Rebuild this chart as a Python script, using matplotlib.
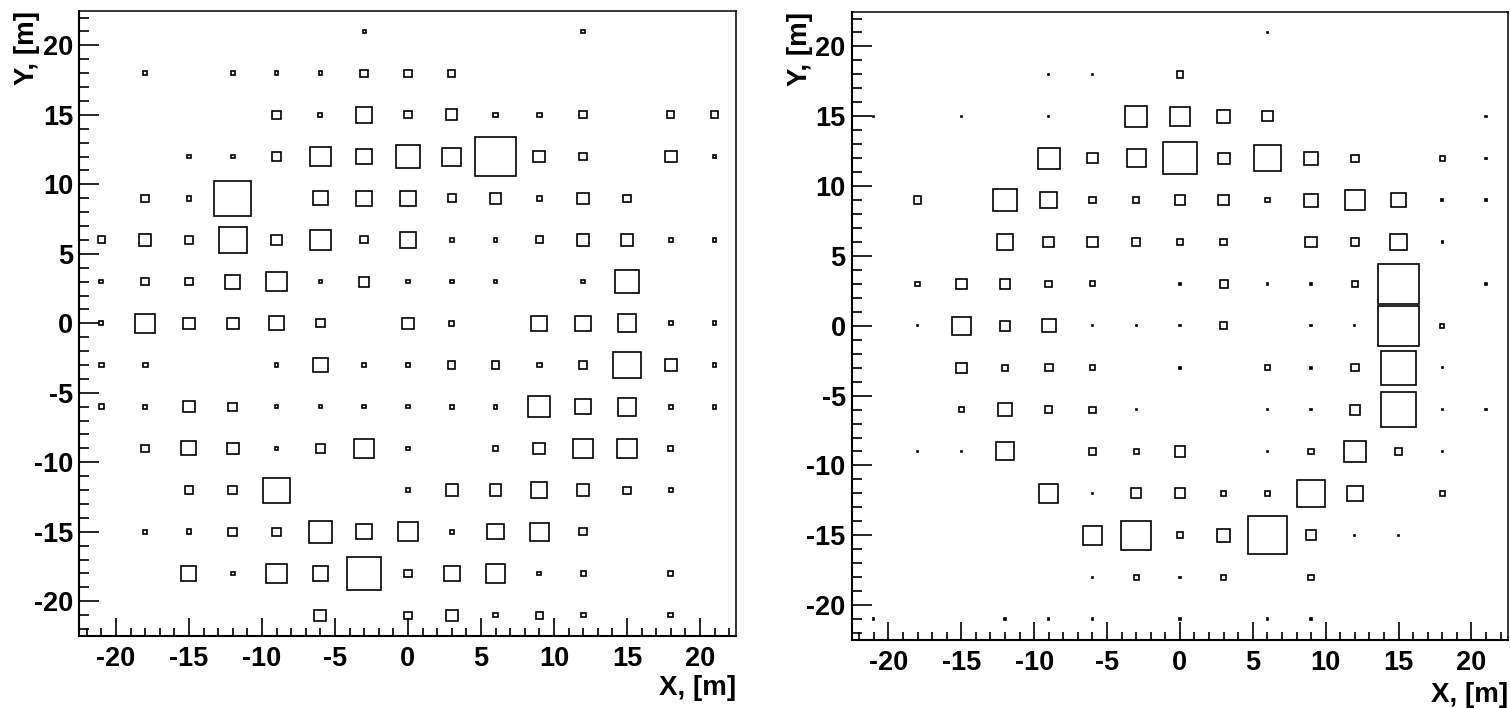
import numpy as np
import matplotlib
matplotlib.use("Agg")
import matplotlib.pyplot as plt
from matplotlib.patches import Rectangle
from matplotlib.ticker import MultipleLocator

plt.rcParams['font.family'] = ['Liberation Sans', 'DejaVu Sans']
plt.rcParams['font.weight'] = 'bold'
plt.rcParams['axes.unicode_minus'] = False

# detector grid: bin centres every 3 m
x_centres = [-21, -18, -15, -12, -9, -6, -3, 0, 3, 6, 9, 12, 15, 18, 21]
y_centres = [21, 18, 15, 12, 9, 6, 3, 0, -3, -6, -9, -12, -15, -18, -21]

# box side as a fraction of the bin width (rows follow y_centres)
box_left = [
    [0, 0, 0, 0, 0, 0, 0.07, 0, 0, 0, 0, 0.08, 0, 0, 0],
    [0, 0.10, 0, 0.10, 0.08, 0.08, 0.17, 0.17, 0.17, 0, 0, 0, 0, 0, 0],
    [0, 0, 0, 0, 0.20, 0.09, 0.37, 0.17, 0.26, 0.11, 0.11, 0.17, 0, 0.17, 0.17],
    [0, 0, 0.09, 0.09, 0.20, 0.47, 0.37, 0.53, 0.43, 0.95, 0.27, 0.18, 0, 0.28, 0.09],
    [0, 0.17, 0.11, 0.84, 0, 0.34, 0.37, 0.37, 0.18, 0.26, 0.11, 0.27, 0.17, 0, 0],
    [0.17, 0.27, 0.20, 0.63, 0.26, 0.47, 0.17, 0.37, 0.09, 0.09, 0.17, 0.27, 0.27, 0.09, 0.09],
    [0.09, 0.17, 0.18, 0.34, 0.46, 0.08, 0.24, 0.08, 0.09, 0.09, 0, 0.09, 0.56, 0, 0],
    [0.09, 0.46, 0.27, 0.27, 0.34, 0.20, 0, 0.27, 0.11, 0, 0.37, 0.37, 0.43, 0.09, 0.09],
    [0.11, 0.11, 0, 0, 0.08, 0.35, 0.08, 0.08, 0.17, 0.17, 0.11, 0.17, 0.63, 0.27, 0.09],
    [0.11, 0.09, 0.27, 0.20, 0.08, 0.08, 0.08, 0.08, 0.09, 0.09, 0.50, 0.37, 0.43, 0.09, 0.09],
    [0, 0.17, 0.34, 0.27, 0.08, 0.20, 0.46, 0.08, 0, 0.11, 0.27, 0.44, 0.44, 0.11, 0],
    [0, 0, 0.20, 0.20, 0.60, 0, 0, 0.08, 0.27, 0.27, 0.37, 0.27, 0.17, 0.09, 0],
    [0, 0.09, 0.11, 0.20, 0.20, 0.53, 0.37, 0.46, 0.09, 0.37, 0.43, 0.17, 0, 0, 0],
    [0, 0, 0.34, 0.09, 0.46, 0.34, 0.78, 0.17, 0.37, 0.44, 0.09, 0.11, 0, 0.11, 0],
    [0, 0, 0, 0, 0, 0.27, 0, 0.17, 0.27, 0.11, 0.17, 0.11, 0, 0.11, 0],
]

box_right = [
    [0, 0, 0, 0, 0, 0, 0, 0, 0, 0.03, 0, 0, 0, 0, 0],
    [0, 0, 0, 0, 0.03, 0.03, 0, 0.15, 0, 0, 0, 0, 0, 0, 0],
    [0.03, 0, 0.03, 0, 0.03, 0, 0.50, 0.44, 0.31, 0.24, 0, 0, 0, 0, 0.03],
    [0, 0, 0, 0, 0.50, 0.24, 0.44, 0.76, 0.27, 0.61, 0.31, 0.17, 0, 0.12, 0.03],
    [0, 0.18, 0, 0.53, 0.40, 0.15, 0.15, 0.24, 0.24, 0.10, 0.31, 0.46, 0.34, 0.05, 0.05],
    [0, 0, 0, 0.37, 0.24, 0.24, 0.18, 0.12, 0.15, 0, 0.26, 0.17, 0.40, 0.03, 0],
    [0, 0.10, 0.24, 0.24, 0.15, 0.12, 0, 0.03, 0.18, 0.03, 0.03, 0.15, 0.95, 0, 0.03],
    [0, 0.03, 0.43, 0.23, 0.31, 0.03, 0.03, 0.03, 0.17, 0, 0.03, 0.03, 0.95, 0.10, 0],
    [0, 0, 0.24, 0.14, 0.18, 0.12, 0, 0.04, 0, 0.12, 0.05, 0.18, 0.82, 0.03, 0],
    [0, 0, 0.12, 0.31, 0.15, 0.14, 0.03, 0, 0, 0.03, 0.03, 0.24, 0.82, 0.03, 0.03],
    [0, 0.03, 0.03, 0.43, 0, 0.18, 0.12, 0.24, 0, 0.03, 0.14, 0.50, 0.17, 0.03, 0],
    [0, 0, 0, 0, 0.44, 0.03, 0.24, 0.24, 0.12, 0.12, 0.63, 0.37, 0, 0.12, 0],
    [0, 0, 0, 0, 0, 0.44, 0.69, 0.15, 0.31, 0.90, 0.24, 0.03, 0.03, 0, 0],
    [0, 0, 0, 0, 0, 0.03, 0.12, 0.03, 0.12, 0, 0.12, 0, 0, 0, 0],
    [0.03, 0, 0, 0.03, 0.03, 0.03, 0, 0.03, 0, 0.03, 0.03, 0, 0, 0, 0],
]

BIN = 3.0


def box_panel(ax, grid, xlab_y):
    """draw ROOT-like box histogram"""
    for j, yc in enumerate(y_centres):
        for i, xc in enumerate(x_centres):
            f = grid[j][i]
            if f <= 0:
                continue
            s = BIN * f
            ax.add_patch(Rectangle((xc - s / 2, yc - s / 2), s, s,
                                   fill=False, edgecolor='black', lw=1.2))
    ax.set_xlim(-22.5, 22.5)
    ax.set_ylim(-22.5, 22.5)
    ax.xaxis.set_major_locator(MultipleLocator(5))
    ax.xaxis.set_minor_locator(MultipleLocator(1))
    ax.yaxis.set_major_locator(MultipleLocator(5))
    ax.yaxis.set_minor_locator(MultipleLocator(1))
    ax.tick_params(axis='x', which='major', direction='in', length=13, width=1.2,
                   labelsize=19.5, pad=7)
    ax.tick_params(axis='x', which='minor', direction='in', length=6, width=1.2)
    ax.tick_params(axis='y', which='major', direction='in', length=14.5, width=1.2,
                   labelsize=19.5, pad=4.5)
    ax.tick_params(axis='y', which='minor', direction='in', length=7, width=1.2)
    for lab in ax.get_xticklabels() + ax.get_yticklabels():
        lab.set_fontweight('bold')
    for side in ['left', 'bottom']:
        ax.spines[side].set_linewidth(1.5)
    for side in ['top', 'right']:
        ax.spines[side].set_linewidth(1.1)
    ax.text(1.0, xlab_y, 'X, [m]', transform=ax.transAxes, ha='right', va='top',
            fontsize=20, fontweight='bold')


fig = plt.figure(figsize=(15.1, 7.08), dpi=100)
ax1 = fig.add_axes([0.0526, 0.1017, 0.4351, 0.8833])
ax2 = fig.add_axes([0.5642, 0.0960, 0.4344, 0.8877])

box_panel(ax1, box_left, -0.062)
box_panel(ax2, box_right, -0.067)

ax1.text(-0.080, 1.0, 'Y, [m]', transform=ax1.transAxes, rotation=90,
         ha='center', va='top', fontsize=20, fontweight='bold')
ax2.text(-0.079, 1.0, 'Y, [m]', transform=ax2.transAxes, rotation=90,
         ha='center', va='top', fontsize=20, fontweight='bold')

fig.savefig('out.png', dpi=100)
